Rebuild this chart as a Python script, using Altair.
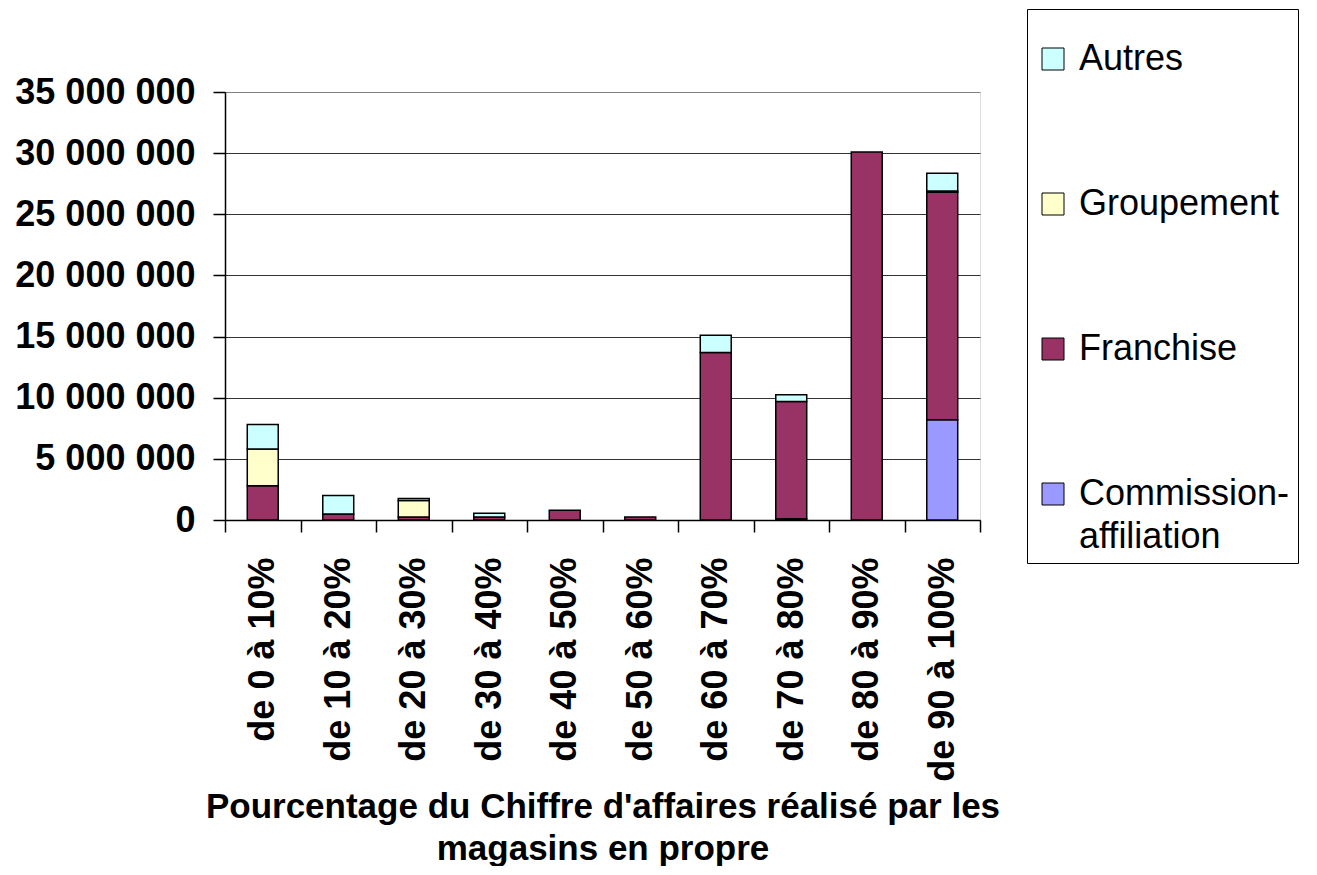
import altair as alt
import pandas as pd

categories = ["de 0 à 10%", "de 10 à 20%", "de 20 à 30%", "de 30 à 40%", "de 40 à 50%",
              "de 50 à 60%", "de 60 à 70%", "de 70 à 80%", "de 80 à 90%", "de 90 à 100%"]

# values in millions
commission = [0, 0, 0, 0, 0, 0, 0, 0.1, 0, 8.2]
franchise = [2.8, 0.5, 0.25, 0.25, 0.8, 0.25, 13.7, 9.6, 30.1, 18.6]
groupement = [3.0, 0, 1.35, 0, 0, 0, 0, 0, 0, 0.1]
autres = [2.0, 1.5, 0.15, 0.3, 0, 0, 1.4, 0.55, 0, 1.45]

series_names = ["Commission-affiliation", "Franchise", "Groupement", "Autres"]
legend_order = ["Autres", "Groupement", "Franchise", "Commission-affiliation"]
legend_colors = ["#CCFFFF", "#FFFFCC", "#993366", "#9999FF"]
y_ticks = [0, 5e6, 10e6, 15e6, 20e6, 25e6, 30e6, 35e6]

rows = []
for rank, (name, vals) in enumerate(zip(series_names, [commission, franchise, groupement, autres])):
    for cat, v in zip(categories, vals):
        if v > 0:
            rows.append({"cat": cat, "serie": name, "value": v * 1e6, "rank": rank})
df = pd.DataFrame(rows)

FONT = "Arial, Liberation Sans, sans-serif"

chart = alt.Chart(df).mark_bar(
    width=alt.RelativeBandSize(0.41), stroke="black", strokeWidth=1.5
).encode(
    x=alt.X("cat:N", sort=categories,
            scale=alt.Scale(paddingInner=0, paddingOuter=0),
            axis=alt.Axis(
                title=["Pourcentage du Chiffre d'affaires réalisé par les", "magasins en propre"],
                titleFont=FONT, titleFontSize=35, titleFontWeight="bold", titleColor="black",
                titleLineHeight=42, titleY=269, titleX=377.5, titleBaseline="top", titleAlign="center",
                labelAngle=270, labelAlign="right", labelBaseline="middle",
                labelFont=FONT, labelFontSize=36, labelFontWeight="bold", labelColor="black",
                labelPadding=25, labelLimit=400,
                tickBand="extent", tickSize=12, tickColor="black", tickWidth=1.5,
                domainColor="black", domainWidth=1.5, grid=False)),
    y=alt.Y("value:Q", stack="zero",
            scale=alt.Scale(domain=[0, 35e6], nice=False),
            axis=alt.Axis(
                title=None, values=y_ticks,
                labelExpr="replace(format(datum.value, ',d'), regexp(',', 'g'), ' ')",
                labelFont=FONT, labelFontSize=36, labelFontWeight="bold", labelColor="black",
                labelPadding=18, labelLimit=400, tickSize=12, tickColor="black", tickWidth=1.5,
                domainColor="black", domainWidth=1.5,
                grid=True, gridWidth=1,
                gridColor={"condition": {"test": "datum.value >= 35000000", "value": "#808080"},
                           "value": "#333333"})),
    color=alt.Color("serie:N",
                    scale=alt.Scale(domain=legend_order, range=legend_colors),
                    legend=alt.Legend(
                        orient="none", legendX=802, legendY=-83,
                        title=" ", titleFontSize=10, titlePadding=14,
                        padding=8, strokeColor="black", fillColor="white",
                        symbolType="square", symbolSize=484,
                        symbolStrokeColor="black", symbolStrokeWidth=1,
                        labelFont=FONT, labelFontSize=36, labelColor="black",
                        labelOffset=8, labelLimit=400, rowPadding=109,
                        labelExpr="datum.label == 'Commission-affiliation' ? ['Commission-', 'affiliation'] : datum.label")),
    order=alt.Order("rank:Q", sort="ascending"),
).properties(
    width=755, height=428,
    autosize=alt.AutoSizeParams(type="none"),
    padding={"left": 217, "top": 84, "right": 329, "bottom": 346},
).configure_view(
    fill="#C0C0C0", stroke="#808080", strokeWidth=1.5
).configure(
    style={"guide-label": {"lineHeight": 43}}
)

chart.save("out.html", embed_options={"renderer": "svg", "actions": False})
